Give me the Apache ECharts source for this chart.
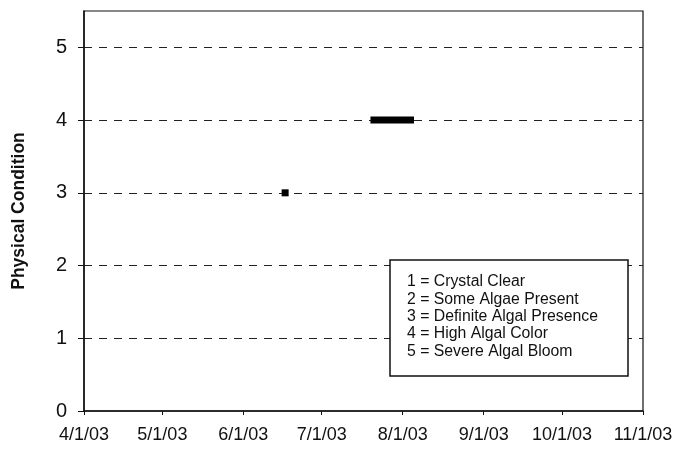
<!DOCTYPE html>
<html>
<head>
<meta charset="utf-8">
<script src="https://cdn.jsdelivr.net/npm/echarts@6/dist/echarts.min.js"></script>
<style>
html,body{margin:0;padding:0;background:#fff;}
#chart{width:694px;height:453px;}
</style>
</head>
<body>
<div id="chart"></div>
<script>
// ---- data ----
const xTickLabels = ['4/1/03','5/1/03','6/1/03','7/1/03','8/1/03','9/1/03','10/1/03','11/1/03'];
const yTickValues = [0,1,2,3,4,5];
const juneDates = ['6/17/03'];
const juneValues = [3];
const summerDates = ['7/21/03','7/25/03','7/30/03','8/4/03'];
const summerValues = [4,4,4,4];
const legendLines = [
  '1 = Crystal Clear',
  '2 = Some Algae Present',
  '3 = Definite Algal Presence',
  '4 = High Algal Color',
  '5 = Severe Algal Bloom'
];
const yTitle = 'Physical Condition';

function toTs(s){
  const p = s.split('/');
  return Date.UTC(2000 + Number(p[2]), Number(p[0]) - 1, Number(p[1]));
}
const xTicks = xTickLabels.map(toTs);
function pairs(d, v){ return d.map((s,i)=>[toTs(s), v[i]]); }

const FONT = '"Liberation Sans", Arial, sans-serif';
const chart = echarts.init(document.getElementById('chart'), null, {renderer:'canvas'});

const legendX = 390, legendY = 260, legendW = 238, legendH = 116;
const legendTexts = legendLines.map((t,i)=>({
  type:'text', left: legendX + 17, top: legendY + 14 + i*17.3,
  style:{ text:t, fill:'#111', font:'15.8px ' + FONT }
}));

chart.setOption({
  animation:false,
  backgroundColor:'#fff',
  grid:{ left:84, right:51, top:11, bottom:42, show:true, borderColor:'#111', borderWidth:1.2, backgroundColor:'transparent' },
  xAxis:{
    type:'value',
    min: xTicks[0], max: xTicks[xTicks.length-1],
    axisLine:{ show:true, onZero:false, lineStyle:{ color:'#111', width:1.5 } },
    axisTick:{ show:true, inside:false, length:4, customValues: xTicks, lineStyle:{ color:'#111' } },
    axisLabel:{
      customValues: xTicks, margin:15, color:'#111', fontSize:18, fontFamily:FONT,
      formatter:(v)=>{ const i = xTicks.indexOf(v); return i>=0 ? xTickLabels[i] : ''; }
    },
    splitLine:{ show:false }
  },
  yAxis:{
    type:'value', min:0, max:5.5,
    name: yTitle, nameLocation:'middle', nameGap:56,
    nameTextStyle:{ fontSize:17.5, fontWeight:'bold', color:'#111', fontFamily:FONT },
    axisLine:{ show:true, lineStyle:{ color:'#111', width:1.5 } },
    axisTick:{ show:true, inside:false, length:6, customValues: yTickValues, lineStyle:{ color:'#111' } },
    axisLabel:{ customValues: yTickValues, margin:17, color:'#111', fontSize:20, fontFamily:FONT },
    splitLine:{ show:false }
  },
  series:[
    {
      type:'line', data: pairs(juneDates, juneValues),
      symbol:'rect', symbolSize:7, showSymbol:true,
      itemStyle:{ color:'#000', borderWidth:0 }, lineStyle:{ color:'#000', width:7 }, z:5,
      markLine:{
        silent:true, symbol:'none', label:{show:false},
        lineStyle:{ type:[8,7], color:'#222', width:1 },
        data: yTickValues.filter(v=>v>0).map(v=>({ yAxis:v }))
      }
    },
    {
      type:'line', data: pairs(summerDates, summerValues),
      symbol:'none', showSymbol:false,
      lineStyle:{ color:'#000', width:7, cap:'square' }, z:5
    }
  ],
  graphic:[
    { type:'rect', shape:{ x:legendX, y:legendY, width:legendW, height:legendH },
      style:{ fill:'#fff', stroke:'#111', lineWidth:1.5 }, z:10 },
    ...legendTexts.map(t=>Object.assign(t,{z:11}))
  ]
});
</script>
</body>
</html>
